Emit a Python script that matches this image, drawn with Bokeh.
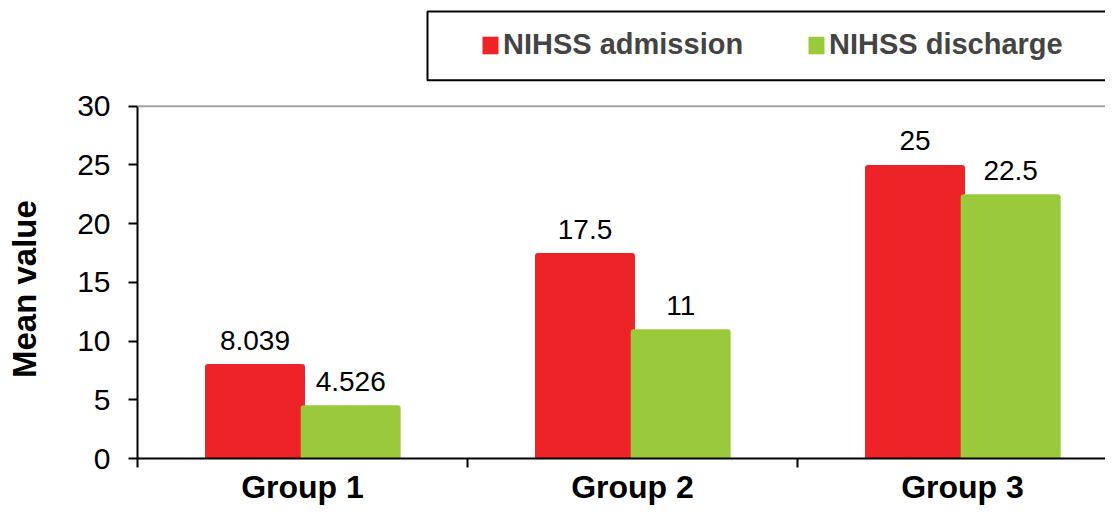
from bokeh.plotting import figure
from bokeh.models import (Range1d, FixedTicker, CustomJSTickFormatter, Legend, LegendItem,
                          Span, BoxAnnotation, ColumnDataSource)
from bokeh.embed import file_html
from bokeh.resources import INLINE
from bokeh.core.properties import value

# ---- data ----
categories = ["Group 1", "Group 2", "Group 3"]
admission = [8.039, 17.5, 25]
discharge = [4.526, 11, 22.5]
admission_labels = ["8.039", "17.5", "25"]
discharge_labels = ["4.526", "11", "22.5"]
series_names = ["NIHSS admission", "NIHSS discharge"]
y_ticks = [0, 5, 10, 15, 20, 25, 30]
y_max = 30
y_title = "Mean value"

RED = "#ED2327"
GREEN = "#9ACA3C"
FONT = "Liberation Sans"

# ---- layout ----
W, H = 1105, 507
BL = 137                 # frame left
FRAME_BOTTOM = 459       # x axis position
BB = H - FRAME_BOTTOM
FRAME_W = W - BL
CAT_PX = 330.0
PX_PER_UNIT = 353.0 / y_max          # value 0 -> 30 spans 353 px
Y_TOP = FRAME_BOTTOM / PX_PER_UNIT   # frame reaches up to the figure top (room for legend)

centers = [i + 0.5 for i in range(len(categories))]
bar_w = 0.303
red_x = [c - 0.144 for c in centers]
green_x = [c + 0.146 for c in centers]

src_a = ColumnDataSource(dict(x=red_x, top=admission, lab=admission_labels))
src_d = ColumnDataSource(dict(x=green_x, top=discharge, lab=discharge_labels))

p = figure(width=W, height=H, output_backend="svg", toolbar_location=None,
           x_range=Range1d(0, FRAME_W / CAT_PX), y_range=Range1d(0, Y_TOP),
           min_border_left=BL, min_border_right=0, min_border_top=0, min_border_bottom=BB)

r1 = p.vbar(x="x", top="top", bottom=0, width=bar_w, source=src_a, fill_color=RED,
            line_color=None, border_radius=(3, 3, 0, 0))
r2 = p.vbar(x="x", top="top", bottom=0, width=bar_w, source=src_d, fill_color=GREEN,
            line_color=None, border_radius=(3, 3, 0, 0))

for src in (src_a, src_d):
    p.text(x="x", y="top", text="lab", source=src, text_font=value(FONT),
           text_font_size="28px", text_align="center", text_baseline="alphabetic",
           y_offset=-24, text_color="black")

p.xgrid.visible = False
p.ygrid.visible = False
p.outline_line_color = None

p.add_layout(Span(location=y_max, dimension="width", line_color="#A0A0A0", line_width=2))

# y axis
ya = p.yaxis[0]
ya.bounds = (0, y_max)
ya.ticker = FixedTicker(ticks=y_ticks)
ya.major_tick_out = 9
ya.major_tick_in = 0
ya.minor_tick_out = 0
ya.minor_tick_in = 0
ya.major_tick_line_color = "black"
ya.major_tick_line_width = 2
ya.axis_line_color = "black"
ya.axis_line_width = 2
ya.major_label_text_font = FONT
ya.major_label_text_font_size = "30px"
ya.major_label_text_color = "black"
ya.major_label_standoff = 18
# trailing no-break spaces move the centred title down to the middle of the 0-30 span
ya.axis_label = y_title + "\u00a0" * 13
ya.axis_label_text_font = FONT
ya.axis_label_text_font_style = "bold"
ya.axis_label_text_font_size = "33px"
ya.axis_label_text_color = "black"
ya.axis_label_standoff = 31

# x axis
xa = p.xaxis[0]
xa.ticker = FixedTicker(ticks=centers, minor_ticks=[0, 1, 2, 3])
xa.major_tick_out = 0
xa.major_tick_in = 0
xa.minor_tick_out = 9
xa.minor_tick_in = 0
xa.minor_tick_line_color = "black"
xa.minor_tick_line_width = 2
xa.axis_line_color = "black"
xa.axis_line_width = 2
xa.formatter = CustomJSTickFormatter(args=dict(cats=categories),
                                     code="return cats[Math.round(tick - 0.5)];")
xa.major_label_text_font = FONT
xa.major_label_text_font_style = "bold"
xa.major_label_text_font_size = "32px"
xa.major_label_text_color = "black"
xa.major_label_standoff = 1

# legend box
box = BoxAnnotation(left=(427 - BL) / CAT_PX, right=FRAME_W / CAT_PX + 1,
                    top=(FRAME_BOTTOM - 11) / PX_PER_UNIT, bottom=(FRAME_BOTTOM - 80) / PX_PER_UNIT,
                    fill_alpha=0, line_color="black", line_alpha=1, line_width=2)
p.add_layout(box)

legend = Legend(items=[LegendItem(label=series_names[0], renderers=[r1]),
                       LegendItem(label=series_names[1], renderers=[r2])],
                location=(480 - BL - 12, 385), orientation="horizontal", padding=12, margin=0,
                glyph_width=20, glyph_height=22, label_height=22, label_width=290,
                label_standoff=3, spacing=13, label_text_font=FONT,
                label_text_font_style="bold", label_text_font_size="29px",
                border_line_alpha=0, background_fill_alpha=0)
p.add_layout(legend)

open("out.html", "w").write(file_html(p, INLINE))
